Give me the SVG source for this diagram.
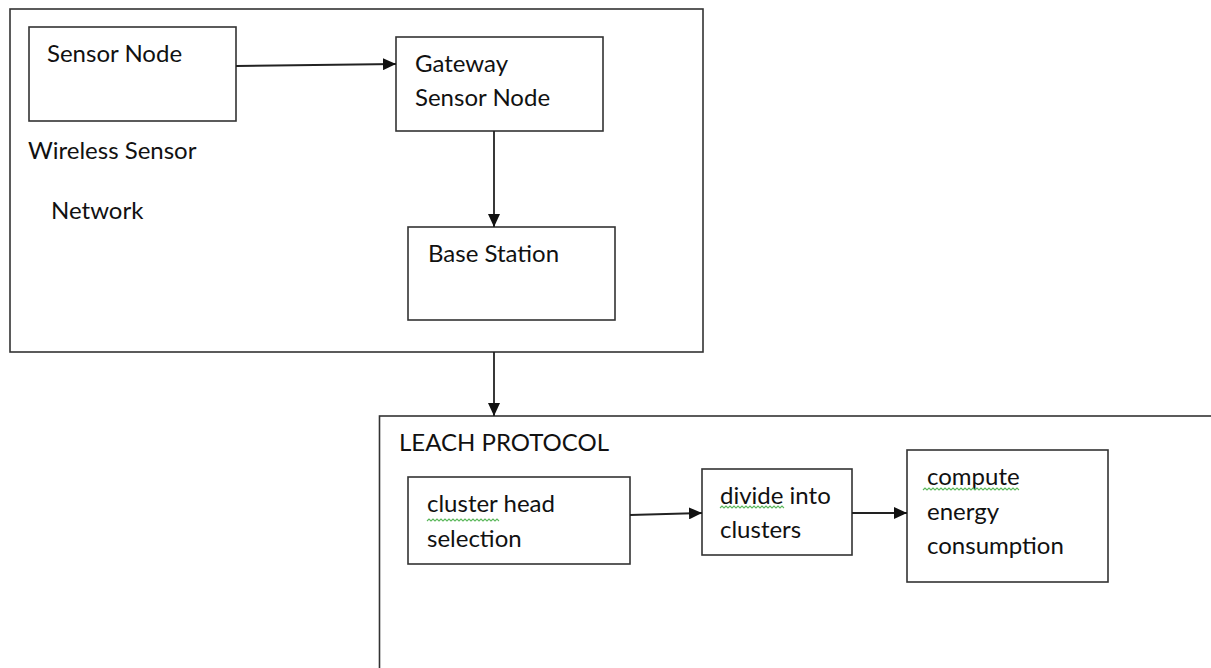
<svg xmlns="http://www.w3.org/2000/svg" width="1211" height="668" viewBox="0 0 1211 668">
<style>
.box{fill:#fff;stroke:#333;stroke-width:1.6}
.frame{fill:none;stroke:#333;stroke-width:1.6}
.t{font-family:Lato,"Open Sans","Liberation Sans",sans-serif;font-size:24px;fill:#111}
.edge{stroke:#222;stroke-width:1.8;fill:none;marker-end:url(#ah)}
.sq{fill:none;stroke:#5cb85c;stroke-width:1.1}
</style>
<defs>
<marker id="ah" viewBox="0 0 13 12" refX="13" refY="6" markerWidth="13" markerHeight="12" markerUnits="userSpaceOnUse" orient="auto">
<path d="M0,0 L13,6 L0,12 Z" fill="#111"/>
</marker>
</defs>
<rect width="1211" height="668" fill="#fff"/>
<g id="wsn">
<rect class="frame" x="10" y="9" width="693" height="343"/>
<text class="t" x="28" y="159">Wireless Sensor</text>
<text class="t" x="51" y="219">Network</text>
</g>
<g id="sensor-node">
<rect class="box" x="29" y="27" width="207" height="94"/>
<text class="t" x="47" y="62">Sensor Node</text>
</g>
<g id="gateway">
<rect class="box" x="396" y="37" width="207" height="94"/>
<text class="t" x="415" y="72">Gateway</text>
<text class="t" x="415" y="106">Sensor Node</text>
</g>
<g id="base-station">
<rect class="box" x="408" y="227" width="207" height="93"/>
<text class="t" x="428" y="262">Base Station</text>
</g>
<g id="leach">
<rect class="frame" x="379.5" y="416" width="850" height="270"/>
<text class="t" x="399" y="451">LEACH PROTOCOL</text>
</g>
<g id="cluster-head">
<rect class="box" x="408" y="477" width="222" height="87"/>
<text class="t" x="427" y="512">cluster head</text>
<text class="t" x="427" y="547">selection</text>
<path class="sq" d="M427,521 l2,-2 l2,2 l2,-2 l2,2 l2,-2 l2,2 l2,-2 l2,2 l2,-2 l2,2 l2,-2 l2,2 l2,-2 l2,2 l2,-2 l2,2 l2,-2 l2,2 l2,-2 l2,2 l2,-2 l2,2 l2,-2 l2,2 l2,-2 l2,2 l2,-2 l2,2 l2,-2 l2,2 l2,-2 l2,2 l2,-2 l2,2 l2,-2 l2,2"/>
</g>
<g id="divide">
<rect class="box" x="702" y="469" width="150" height="86"/>
<text class="t" x="720" y="504">divide into</text>
<text class="t" x="720" y="538">clusters</text>
<path class="sq" d="M720,508 l2,-2 l2,2 l2,-2 l2,2 l2,-2 l2,2 l2,-2 l2,2 l2,-2 l2,2 l2,-2 l2,2 l2,-2 l2,2 l2,-2 l2,2 l2,-2 l2,2 l2,-2 l2,2 l2,-2 l2,2 l2,-2 l2,2 l2,-2 l2,2 l2,-2 l2,2 l2,-2 l2,2 l2,-2 l2,2"/>
</g>
<g id="compute">
<rect class="box" x="907" y="450" width="201" height="132"/>
<text class="t" x="927" y="485">compute</text>
<text class="t" x="927" y="520">energy</text>
<text class="t" x="927" y="554">consumption</text>
<path class="sq" d="M923,490 l2,-2 l2,2 l2,-2 l2,2 l2,-2 l2,2 l2,-2 l2,2 l2,-2 l2,2 l2,-2 l2,2 l2,-2 l2,2 l2,-2 l2,2 l2,-2 l2,2 l2,-2 l2,2 l2,-2 l2,2 l2,-2 l2,2 l2,-2 l2,2 l2,-2 l2,2 l2,-2 l2,2 l2,-2 l2,2 l2,-2 l2,2 l2,-2 l2,2 l2,-2 l2,2 l2,-2 l2,2 l2,-2 l2,2 l2,-2 l2,2 l2,-2 l2,2 l2,-2 l2,2"/>
</g>
<g id="connectors">
<path class="edge" d="M236,66 L396,64"/>
<path class="edge" d="M494,131 L494,227"/>
<path class="edge" d="M494,352 L494,416"/>
<path class="edge" d="M630,515 L702,513"/>
<path class="edge" d="M852,513 L907,513"/>
</g>
</svg>
